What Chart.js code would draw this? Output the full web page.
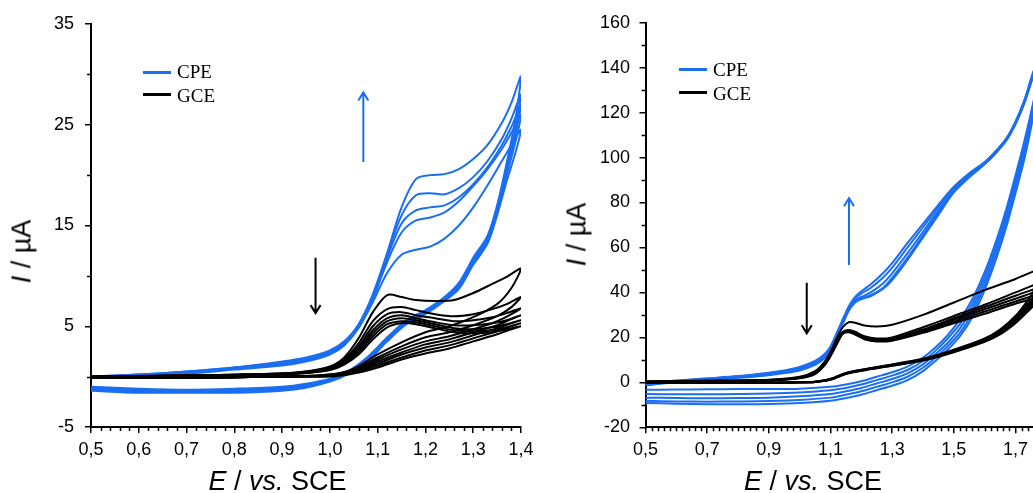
<!DOCTYPE html>
<html lang="en">
<head>
  <meta charset="UTF-8">
  <title>CV CPE / GCE</title>
  <script src="https://cdn.jsdelivr.net/npm/chart.js"></script>
  <style>
    body {
      margin: 0;
      width: 1033px;
      height: 493px;
      overflow: hidden;
      background: #fff;
      position: relative;
      font-family: "Liberation Sans", Arial, sans-serif;
    }
    canvas { position: absolute; top: 0; }
    .legLine { position: absolute; width: 28px; height: 3px; }
    .legText {
      position: absolute;
      font-family: "Liberation Serif", "Times New Roman", serif;
      font-size: 19px;
      line-height: 19px;
      color: #000;
      white-space: nowrap;
    }
    .xTitle {
      position: absolute;
      top: 468px;
      width: 300px;
      text-align: center;
      font-size: 27px;
      line-height: 27px;
      color: #000;
      white-space: nowrap;
    }
    .yTitle {
      position: absolute;
      width: 120px;
      height: 27px;
      text-align: center;
      font-size: 27px;
      line-height: 27px;
      color: #000;
      white-space: nowrap;
      transform: rotate(-90deg);
    }
  </style>
</head>
<body>
  <canvas id="leftChart" width="545" height="493" style="left:0"></canvas>
  <canvas id="rightChart" width="500" height="493" style="left:560px"></canvas>

  <!-- legends -->
  <div class="legLine" style="left:143px;top:70.5px;background:#1a6ef2"></div>
  <div class="legText" style="left:177px;top:62.4px">CPE</div>
  <div class="legLine" style="left:143px;top:92.5px;background:#000"></div>
  <div class="legText" style="left:177px;top:85.8px">GCE</div>

  <div class="legLine" style="left:679px;top:68px;background:#1a6ef2"></div>
  <div class="legText" style="left:713px;top:60.1px">CPE</div>
  <div class="legLine" style="left:679px;top:90.5px;background:#000"></div>
  <div class="legText" style="left:713px;top:84.1px">GCE</div>

  <!-- axis titles -->
  <div class="xTitle" style="left:127.5px"><i>E</i> / <i>vs.</i> SCE</div>
  <div class="xTitle" style="left:663px"><i>E</i> / <i>vs.</i> SCE</div>
  <div class="yTitle" style="left:-38.4px;top:238px"><i>I</i> / µA</div>
  <div class="yTitle" style="left:516.6px;top:220.7px"><i>I</i> / µA</div>

  <script>
    // ---------- left panel: E 0.5 - 1.4 V ----------
    const leftXTicks = [0.5, 0.6, 0.7, 0.8, 0.9, 1.0, 1.1, 1.2, 1.3, 1.4];
    const leftYTicks = [-5, 5, 15, 25, 35];

    // CPE, 5 cycles (forward scan then reverse scan)
    const leftCpeFwdE = [0.5, 0.6, 0.7, 0.8, 0.9, 0.95, 1.0, 1.03, 1.06, 1.09, 1.12, 1.15, 1.18, 1.21, 1.24, 1.27, 1.3, 1.33, 1.36, 1.38, 1.4];
    const leftCpeFwdI = [
      [0.0, 0.2, 0.5, 0.9, 1.5, 1.9, 2.6, 3.5, 5.2, 8.2, 12.3, 16.8, 19.6, 20.0, 20.1, 20.6, 21.6, 23.0, 25.2, 27.2, 29.8],
      [0.0, 0.2, 0.5, 0.9, 1.4, 1.8, 2.5, 3.4, 5.1, 8.0, 12.1, 16.0, 18.0, 18.2, 18.1, 18.7, 19.8, 21.4, 23.6, 25.6, 28.0],
      [0.0, 0.2, 0.4, 0.8, 1.3, 1.7, 2.4, 3.3, 5.0, 7.8, 11.8, 15.2, 16.5, 16.8, 17.0, 17.8, 19.1, 20.8, 23.0, 24.8, 27.0],
      [0.0, 0.1, 0.4, 0.8, 1.2, 1.6, 2.3, 3.2, 4.9, 7.7, 11.4, 14.3, 15.5, 15.8, 16.3, 17.4, 18.9, 20.6, 22.6, 24.2, 26.0],
      [0.0, 0.1, 0.3, 0.7, 1.1, 1.5, 2.2, 3.1, 4.8, 7.4, 10.3, 12.1, 12.6, 12.9, 13.7, 15.0, 16.8, 19.0, 21.4, 23.0, 24.5]
    ];
    const leftCpeRevE = [1.4, 1.39, 1.37, 1.35, 1.33, 1.3, 1.27, 1.24, 1.2, 1.16, 1.12, 1.08, 1.04, 1.0, 0.95, 0.9, 0.8, 0.7, 0.6, 0.5];
    const leftCpeRevI = [
      [29.8, 26.0, 21.2, 17.0, 14.0, 11.8, 9.3, 7.9, 6.6, 5.6, 3.9, 2.0, 0.6, -0.2, -0.7, -1.0, -1.2, -1.3, -1.2, -1.0],
      [28.0, 25.0, 20.8, 16.7, 13.8, 11.6, 9.1, 7.8, 6.5, 5.5, 3.8, 1.9, 0.5, -0.3, -0.8, -1.1, -1.3, -1.4, -1.3, -1.1],
      [27.0, 24.3, 20.4, 16.5, 13.6, 11.5, 9.0, 7.7, 6.4, 5.4, 3.7, 1.8, 0.4, -0.3, -0.9, -1.2, -1.4, -1.5, -1.4, -1.2],
      [26.0, 23.6, 20.0, 16.3, 13.4, 11.3, 8.9, 7.6, 6.3, 5.3, 3.6, 1.7, 0.4, -0.4, -1.0, -1.3, -1.5, -1.5, -1.5, -1.3],
      [24.5, 22.5, 19.4, 16.0, 13.2, 11.1, 8.7, 7.5, 6.2, 5.2, 3.5, 1.6, 0.3, -0.5, -1.1, -1.4, -1.6, -1.6, -1.6, -1.4]
    ];

    // GCE, 7 cycles
    const leftGceFwdE = [0.5, 0.7, 0.9, 0.95, 1.0, 1.03, 1.06, 1.09, 1.12, 1.15, 1.18, 1.22, 1.26, 1.3, 1.34, 1.37, 1.4];
    const leftGceFwdI = [
      [0.0, 0.1, 0.3, 0.5, 1.0, 1.9, 3.8, 6.4, 8.1, 7.9, 7.6, 7.5, 7.6, 8.3, 9.2, 9.9, 10.7],
      [0.0, 0.1, 0.3, 0.5, 0.9, 1.7, 3.3, 5.5, 6.7, 6.9, 6.6, 6.2, 6.0, 6.2, 6.7, 7.2, 7.9],
      [0.0, 0.1, 0.3, 0.45, 0.85, 1.6, 3.0, 5.0, 6.2, 6.4, 6.1, 5.8, 5.5, 5.6, 5.9, 6.3, 6.8],
      [0.0, 0.1, 0.25, 0.4, 0.8, 1.5, 2.8, 4.6, 5.8, 6.1, 5.8, 5.4, 5.1, 5.1, 5.3, 5.6, 6.1],
      [0.0, 0.1, 0.25, 0.4, 0.75, 1.4, 2.6, 4.3, 5.5, 5.8, 5.6, 5.2, 4.8, 4.7, 4.9, 5.2, 5.6],
      [0.0, 0.1, 0.2, 0.35, 0.7, 1.3, 2.4, 4.0, 5.2, 5.5, 5.4, 5.0, 4.6, 4.5, 4.6, 4.9, 5.3],
      [0.0, 0.1, 0.2, 0.35, 0.65, 1.2, 2.2, 3.7, 4.9, 5.3, 5.2, 4.8, 4.4, 4.3, 4.4, 4.7, 5.0]
    ];
    const leftGceRevE = [1.4, 1.38, 1.35, 1.3, 1.25, 1.2, 1.15, 1.1, 1.05, 1.0, 0.9, 0.7, 0.5];
    const leftGceRevI = [
      [10.7, 8.8, 7.2, 5.9, 5.0, 4.4, 3.4, 2.2, 0.8, 0.2, 0.0, -0.1, -0.1],
      [7.9, 6.9, 6.0, 5.1, 4.4, 3.9, 3.0, 1.9, 0.7, 0.2, 0.0, -0.1, -0.1],
      [6.8, 6.2, 5.5, 4.7, 4.0, 3.5, 2.7, 1.7, 0.6, 0.15, 0.0, -0.1, -0.1],
      [6.1, 5.7, 5.1, 4.4, 3.7, 3.2, 2.4, 1.5, 0.5, 0.1, 0.0, -0.1, -0.1],
      [5.6, 5.3, 4.8, 4.1, 3.4, 2.9, 2.2, 1.3, 0.45, 0.1, 0.0, -0.1, -0.1],
      [5.3, 5.0, 4.5, 3.8, 3.1, 2.6, 1.9, 1.1, 0.4, 0.05, 0.0, -0.1, -0.1],
      [5.0, 4.7, 4.2, 3.5, 2.8, 2.3, 1.7, 0.9, 0.3, 0.0, 0.0, -0.1, -0.1]
    ];

    // arrows: potential, start current, end current
    const leftArrows = [
      { series: 'CPE', e: 1.07, from: 21.3, to: 28.2 },
      { series: 'GCE', e: 0.97, from: 11.8, to: 6.3 }
    ];

    // ---------- right panel: E 0.5 - 1.8 V ----------
    const rightXTicks = [0.5, 0.7, 0.9, 1.1, 1.3, 1.5, 1.7];
    const rightYTicks = [-20, 0, 20, 40, 60, 80, 100, 120, 140, 160];

    // CPE, 5 cycles
    const rightCpeFwdE = [0.5, 0.6, 0.7, 0.8, 0.9, 0.95, 1.0, 1.05, 1.08, 1.1, 1.13, 1.16, 1.18, 1.2, 1.23, 1.27, 1.3, 1.35, 1.4, 1.45, 1.5, 1.55, 1.6, 1.63, 1.67, 1.7, 1.73, 1.76, 1.8];
    const rightCpeFwdI = [
      [-0.5, 0.8, 1.8, 2.8, 4.3, 5.3, 6.8, 9.5, 12.5, 16.0, 25.0, 34.0, 38.0, 40.5, 43.5, 48.5, 53.0, 62.0, 70.5, 79.0, 87.0, 93.0, 98.0, 102.0, 108.5, 116.0, 126.0, 139.0, 152.0],
      [-0.8, 0.6, 1.6, 2.6, 4.0, 5.0, 6.4, 9.0, 12.0, 15.5, 24.5, 33.5, 37.5, 39.5, 42.0, 46.5, 51.0, 60.0, 69.0, 78.0, 86.5, 92.5, 97.8, 101.8, 108.3, 115.7, 125.6, 138.5, 151.5],
      [-1.0, 0.4, 1.4, 2.4, 3.7, 4.7, 6.0, 8.6, 11.5, 15.0, 24.0, 33.0, 36.5, 38.0, 40.0, 44.0, 48.5, 57.5, 67.0, 76.5, 85.5, 92.0, 97.5, 101.5, 108.0, 115.3, 125.2, 138.0, 151.0],
      [-1.2, 0.3, 1.2, 2.2, 3.4, 4.4, 5.6, 8.2, 11.0, 14.5, 23.5, 32.5, 36.0, 37.3, 38.8, 42.0, 46.5, 55.5, 65.5, 75.5, 85.0, 91.5, 97.2, 101.2, 107.7, 115.0, 124.8, 137.5, 150.5],
      [-1.4, 0.2, 1.0, 2.0, 3.2, 4.1, 5.3, 7.8, 10.6, 14.0, 23.0, 32.0, 35.5, 37.0, 38.3, 41.5, 45.5, 54.5, 64.5, 74.5, 84.5, 91.2, 97.0, 101.0, 107.5, 114.8, 124.5, 137.0, 150.0]
    ];
    const rightCpeRevE = [1.8, 1.78, 1.76, 1.73, 1.7, 1.67, 1.64, 1.6, 1.56, 1.52, 1.48, 1.44, 1.4, 1.35, 1.3, 1.25, 1.2, 1.15, 1.1, 1.0, 0.9, 0.8, 0.7, 0.6, 0.5];
    const rightCpeRevI = [
      [152.0, 140, 126, 108, 92, 77, 64, 49, 37, 28, 21, 15.5, 11, 7, 4.5, 2.5, 0.5, -1.0, -2.0, -2.8, -3.0, -3.0, -3.1, -3.2, -3.3],
      [151.5, 139, 125, 106, 90, 75, 62, 47, 35, 26, 19.5, 14, 9.5, 5.5, 3.0, 1.0, -1.0, -2.5, -3.5, -4.5, -5.0, -5.2, -5.3, -5.3, -5.2],
      [151.0, 138, 124, 104, 88, 73, 60, 45, 33, 24, 17.5, 12.5, 8, 4, 1.5, -0.5, -2.5, -4.0, -5.2, -6.2, -6.8, -7.0, -7.1, -7.0, -6.8],
      [150.5, 137, 122, 102, 86, 71, 58, 43, 31, 22, 16, 11, 6.5, 2.5, 0.0, -2.0, -4.0, -5.5, -6.8, -7.8, -8.3, -8.5, -8.6, -8.5, -8.2],
      [150.0, 136, 120, 100, 84, 69, 56, 41, 29, 20.5, 14.5, 9.5, 5, 1, -1.5, -3.5, -5.5, -7.0, -8.2, -9.2, -9.6, -9.7, -9.7, -9.5, -9.2]
    ];

    // GCE, 6 cycles
    const rightGceFwdE = [0.5, 0.7, 0.9, 1.0, 1.05, 1.08, 1.1, 1.12, 1.14, 1.16, 1.18, 1.21, 1.25, 1.3, 1.4, 1.5, 1.6, 1.7, 1.8];
    const rightGceFwdI = [
      [0.5, 0.8, 1.2, 2.5, 5.0, 9.0, 13.5, 19.5, 24.5, 26.8, 26.5, 25.3, 24.8, 25.6, 30.0, 35.5, 41.0, 46.0, 51.0],
      [0.3, 0.6, 1.0, 2.2, 4.5, 8.5, 13.0, 18.5, 22.5, 23.3, 22.5, 20.5, 19.5, 20.0, 24.5, 29.5, 34.5, 40.0, 45.0],
      [0.3, 0.6, 1.0, 2.1, 4.3, 8.2, 12.6, 18.0, 22.2, 22.9, 22.0, 20.0, 19.0, 19.5, 23.5, 28.5, 33.5, 38.5, 43.0],
      [0.2, 0.5, 0.9, 2.0, 4.1, 8.0, 12.3, 17.6, 22.0, 22.7, 21.8, 19.7, 18.7, 19.1, 23.0, 27.8, 32.5, 37.2, 41.5],
      [0.2, 0.5, 0.9, 1.9, 3.9, 7.7, 12.0, 17.2, 21.8, 22.5, 21.5, 19.4, 18.4, 18.8, 22.5, 27.0, 31.5, 36.0, 40.0],
      [0.1, 0.4, 0.8, 1.8, 3.7, 7.4, 11.6, 16.8, 21.6, 22.3, 21.3, 19.2, 18.2, 18.5, 22.0, 26.3, 30.5, 35.0, 38.5]
    ];
    const rightGceRevE = [1.8, 1.77, 1.74, 1.7, 1.65, 1.6, 1.5, 1.4, 1.3, 1.2, 1.15, 1.1, 1.05, 1.0, 0.9, 0.7, 0.5];
    const rightGceRevI = [
      [51.0, 43.0, 36.5, 29.5, 23.5, 19.5, 14.5, 10.5, 8.0, 5.6, 4.2, 1.5, 0.3, 0.0, -0.2, -0.3, -0.3],
      [45.0, 40.0, 35.0, 28.5, 23.0, 19.0, 14.2, 10.3, 7.8, 5.5, 4.1, 1.5, 0.3, 0.0, -0.2, -0.3, -0.3],
      [43.0, 38.5, 34.0, 28.0, 22.5, 18.7, 14.0, 10.1, 7.7, 5.4, 4.0, 1.4, 0.3, 0.0, -0.2, -0.3, -0.3],
      [41.5, 37.5, 33.0, 27.3, 22.0, 18.4, 13.8, 10.0, 7.6, 5.3, 3.9, 1.3, 0.2, 0.0, -0.2, -0.3, -0.3],
      [40.0, 36.5, 32.3, 26.8, 21.7, 18.2, 13.6, 9.8, 7.5, 5.2, 3.8, 1.2, 0.2, 0.0, -0.2, -0.3, -0.3],
      [38.5, 35.5, 31.5, 26.3, 21.3, 18.0, 13.4, 9.7, 7.4, 5.1, 3.7, 1.2, 0.2, 0.0, -0.2, -0.3, -0.3]
    ];

    const rightArrows = [
      { series: 'CPE', e: 1.16, from: 52.2, to: 81.9 },
      { series: 'GCE', e: 1.023, from: 44.3, to: 21.8 }
    ];

    const colors = { CPE: '#1a6ef2', GCE: '#000000' };

    // one closed loop per cycle: forward points, then reverse points (vertex not repeated)
    function loopData(fwdE, fwdI, revE, revI) {
      const pts = fwdE.map((e, j) => ({ x: e, y: fwdI[j] }));
      revE.slice(1).forEach((e, j) => pts.push({ x: e, y: revI[j + 1] }));
      return pts;
    }

    function cycleSets(label, order, fwdE, fwdI, revE, revI) {
      return fwdI.map((f, i) => ({
        label: label,
        data: loopData(fwdE, f, revE, revI[i]),
        borderColor: colors[label],
        borderWidth: 2,
        showLine: true,
        pointRadius: 0,
        tension: 0.3,
        fill: false,
        order: order
      }));
    }

    // minor tick marks and arrows, drawn through the chart scales
    const extrasPlugin = {
      id: 'extras',
      afterDraw(chart, args, opts) {
        const ctx = chart.ctx;
        const xs = chart.scales.x;
        const ys = chart.scales.y;
        ctx.save();
        ctx.strokeStyle = '#000';
        ctx.lineWidth = 1.5;
        ctx.beginPath();
        opts.minorX.forEach(v => {
          const px = Math.round(xs.getPixelForValue(v)) + 0.5;
          ctx.moveTo(px, xs.top);
          ctx.lineTo(px, xs.top + 4);
        });
        opts.minorY.forEach(v => {
          const py = Math.round(ys.getPixelForValue(v)) + 0.5;
          ctx.moveTo(ys.right, py);
          ctx.lineTo(ys.right - 4, py);
        });
        ctx.stroke();

        ctx.lineWidth = 2;
        opts.arrows.forEach(a => {
          const px = xs.getPixelForValue(a.e);
          const y0 = ys.getPixelForValue(a.from);
          const y1 = ys.getPixelForValue(a.to);
          const dir = y1 < y0 ? 1 : -1;
          ctx.strokeStyle = colors[a.series];
          ctx.beginPath();
          ctx.moveTo(px, y0);
          ctx.lineTo(px, y1);
          ctx.moveTo(px - 5, y1 + dir * 8);
          ctx.lineTo(px, y1);
          ctx.lineTo(px + 5, y1 + dir * 8);
          ctx.stroke();
        });
        ctx.restore();
      }
    };

    function fmt(v) {
      return v.toFixed(1).replace('.', ',');
    }

    function minorValues(min, max, step, majors) {
      const out = [];
      const n = Math.round((max - min) / step);
      for (let k = 0; k <= n; k++) {
        const v = +(min + k * step).toFixed(4);
        if (!majors.some(m => Math.abs(m - v) < 1e-6)) out.push(v);
      }
      return out;
    }

    function makeChart(canvasId, cfg) {
      const tickFont = { family: '"Liberation Sans", Arial, sans-serif', size: 18 };
      return new Chart(document.getElementById(canvasId), {
        type: 'scatter',
        data: { datasets: cfg.datasets },
        plugins: [extrasPlugin],
        options: {
          responsive: false,
          animation: false,
          layout: { padding: cfg.padding },
          plugins: {
            legend: { display: false },
            tooltip: { enabled: false },
            extras: { minorX: cfg.minorX, minorY: cfg.minorY, arrows: cfg.arrows }
          },
          scales: {
            x: {
              type: 'linear',
              min: cfg.xMin,
              max: cfg.xMax,
              afterBuildTicks: s => { s.ticks = cfg.xTicks.map(v => ({ value: v })); },
              afterFit: s => { s.height = cfg.xHeight; },
              ticks: {
                callback: v => fmt(v),
                color: '#000',
                font: tickFont,
                padding: 6,
                maxRotation: 0,
                autoSkip: false
              },
              grid: { drawOnChartArea: false, drawTicks: true, tickLength: 6, color: '#000', lineWidth: 1.5 },
              border: { display: true, color: '#000', width: 2 }
            },
            y: {
              type: 'linear',
              min: cfg.yMin,
              max: cfg.yMax,
              afterBuildTicks: s => { s.ticks = cfg.yTicks.map(v => ({ value: v })); },
              afterFit: s => { s.width = cfg.yWidth; },
              ticks: {
                callback: v => String(v),
                color: '#000',
                font: tickFont,
                padding: cfg.yPad,
                autoSkip: false
              },
              grid: { drawOnChartArea: false, drawTicks: true, tickLength: 6, color: '#000', lineWidth: 1.5 },
              border: { display: true, color: '#000', width: 2 }
            }
          }
        }
      });
    }

    makeChart('leftChart', {
      datasets: cycleSets('GCE', 0, leftGceFwdE, leftGceFwdI, leftGceRevE, leftGceRevI)
        .concat(cycleSets('CPE', 1, leftCpeFwdE, leftCpeFwdI, leftCpeRevE, leftCpeRevI)),
      padding: { left: 0, top: 24, right: 24, bottom: 0 },
      xMin: 0.5, xMax: 1.4, xTicks: leftXTicks,
      yMin: -5, yMax: 35, yTicks: leftYTicks,
      xHeight: 66, yWidth: 91, yPad: 11,
      minorX: minorValues(0.5, 1.4, 0.02, leftXTicks),
      minorY: minorValues(-5, 35, 5, leftYTicks),
      arrows: leftArrows
    });

    makeChart('rightChart', {
      datasets: cycleSets('GCE', 0, rightGceFwdE, rightGceFwdI, rightGceRevE, rightGceRevI)
        .concat(cycleSets('CPE', 1, rightCpeFwdE, rightCpeFwdI, rightCpeRevE, rightCpeRevI)),
      padding: { left: 0, top: 22.7, right: 13.7, bottom: 0 },
      xMin: 0.5, xMax: 1.8, xTicks: rightXTicks,
      yMin: -20, yMax: 160, yTicks: rightYTicks,
      xHeight: 65.7, yWidth: 85.5, yPad: 9.5,
      minorX: minorValues(0.5, 1.8, 0.02, rightXTicks),
      minorY: minorValues(-20, 160, 10, rightYTicks),
      arrows: rightArrows
    });
  </script>
</body>
</html>
